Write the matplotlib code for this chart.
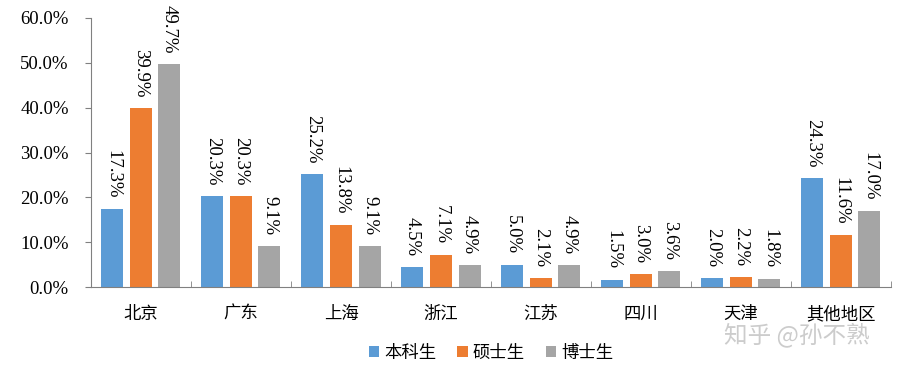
import numpy as np
import matplotlib.pyplot as plt

plt.rcParams['font.family'] = ['Noto Sans CJK SC', 'DejaVu Sans']

regions = ['北京', '广东', '上海', '浙江', '江苏', '四川', '天津', '其他地区']
series = ['本科生', '硕士生', '博士生']
bachelor = [17.3, 20.3, 25.2, 4.5, 5.0, 1.5, 2.0, 24.3]
master = [39.9, 20.3, 13.8, 7.1, 2.1, 3.0, 2.2, 11.6]
doctor = [49.7, 9.1, 9.1, 4.9, 4.9, 3.6, 1.8, 17.0]
colors = ['#5B9BD5', '#ED7D31', '#A5A5A5']

fig = plt.figure(figsize=(9.04, 3.70), dpi=100)
ax = fig.add_axes([91 / 904, 1 - 287 / 370, (891 - 91) / 904, (287 - 18) / 370])

x = np.arange(len(regions))
w = 0.22
step = 0.285
for i, (vals, name) in enumerate(zip([bachelor, master, doctor], series)):
    pos = x + (i - 1) * step
    ax.bar(pos, vals, width=w, color=colors[i], label=name)
    for px, v in zip(pos, vals):
        ax.text(px, v + 2.4, f'{v:.1f}%', rotation=270, ha='center', va='bottom',
                fontsize=13.5, family='Liberation Serif')

ax.set_xlim(-0.5, 7.5)
ax.set_ylim(0, 60)
ax.set_yticks(np.arange(0, 61, 10))
ax.set_yticklabels([f'{t:.1f}%' for t in range(0, 61, 10)], family='Liberation Serif', fontsize=13.5)
ax.set_xticks(x)
ax.set_xticklabels(regions, fontsize=12.5)
ax.set_xticks(np.arange(0.5, 7.6, 1), minor=True)
ax.tick_params(axis='x', which='major', length=0, pad=13)
ax.tick_params(axis='x', which='minor', length=4, direction='in', color='#808080')
ax.tick_params(axis='y', length=4, color='#808080', pad=12)

for s in ['top', 'right']:
    ax.spines[s].set_visible(False)
for s in ['left', 'bottom']:
    ax.spines[s].set_color('#808080')

ax.legend(loc='center', bbox_to_anchor=(0.5, -0.245), ncol=3, frameon=False,
          fontsize=12.5, handlelength=0.6, handleheight=0.6, handletextpad=0.3,
          columnspacing=1.2)

fig.text(0.882, 0.095, '知乎 @孙不熟', fontsize=17, color='#cccccc', ha='center', va='center')

fig.savefig('out.png', dpi=100)
